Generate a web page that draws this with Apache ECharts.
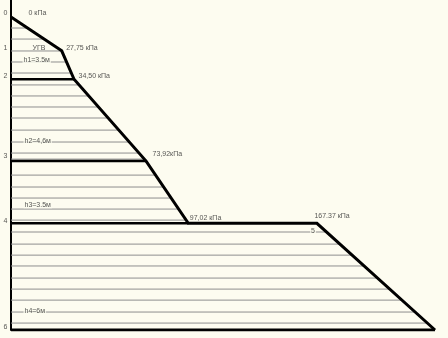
<!DOCTYPE html>
<html><head><meta charset="utf-8">
<script src="https://cdn.jsdelivr.net/npm/echarts@6/dist/echarts.min.js"></script>
<style>html,body{margin:0;padding:0;background:#fdfcf0;}#c{width:448px;height:338px;}</style>
</head><body><div id="c"></div>
<script>
// Pressure diagram profile: pressure (kPa) vs depth (m)
const pressures = [0, 27.75, 34.50, 73.92, 97.02, 167.37, 232];
const depths    = [0, 1.9, 3.5, 8.1, 11.6, 11.6, 17.6];
const pressureLabels = ['0 кПа', '27,75 кПа', '34,50 кПа', '73,92кПа', '97,02 кПа', '167.37 кПа', ''];
// Level numbers on the left
const levelNames  = ['0', '1', '2', '3', '4', '6'];
const levelDepths = [0, 1.9, 3.5, 8.1, 11.6, 17.6];
// Thick layer boundaries
const thickLevelDepths = [3.5, 8.1, 11.6];
// Thin hatch lines
const hatchDepths = [0.62, 1.24, 1.91, 2.53, 3.15, 3.82, 4.44, 5.06, 5.68, 6.36, 7.03, 7.65, 7.99,
  8.89, 9.56, 10.18, 10.80, 11.42, 12.09, 12.77, 13.39, 14.0, 14.68, 15.30, 15.92, 16.59, 17.21];
// Layer annotations
const layerNames = ['УГВ', 'h1=3.5м', 'h2=4,6м', 'h3=3.5м', 'h4=6м'];
const layerNameDepths = [1.9, 2.53, 7.03, 10.59, 16.59];
const point5Name = '5';
const point5Depth = 12.09;

// label layout (styles, kept apart from data)
const pressureLabelOffsets = [[18, -3], [5, -2], [5, -3], [7, -6], [2, -5], [-2, -7], [0, 0]];
const levelLabelOffsets = [[-3, -3], [-3, -2], [-3, -3], [-3, -4], [-3, -2], [-3, -2]];
const layerLabelOffsets = [[22, -2], [12, -1], [13, 0], [13, 0], [13, 0]];

function boundary(d) {
  if (d <= depths[0]) return pressures[0];
  for (let i = 0; i < depths.length - 1; i++) {
    const d0 = depths[i], d1 = depths[i + 1];
    if (d > d0 && d <= d1 && d1 > d0) {
      return pressures[i] + (pressures[i + 1] - pressures[i]) * (d - d0) / (d1 - d0);
    }
  }
  return pressures[pressures.length - 1];
}

const FONT = 'Liberation Sans';
const TXT = '#2a2a2a';
const BG = '#fdfcf0';

function hlineSeries(name, list, color, width, z) {
  return {
    type: 'custom', name: name, z: z, silent: true,
    data: list.map(d => [d, boundary(d)]),
    renderItem: function (params, api) {
      const d = api.value(0), b = api.value(1);
      const p0 = api.coord([0, d]), p1 = api.coord([b, d]);
      return { type: 'line', shape: { x1: p0[0], y1: p0[1], x2: p1[0], y2: p1[1] },
        style: { stroke: color, lineWidth: width } };
    }
  };
}

function labelPoint(x, y, text, offset, align, bg) {
  return {
    value: [x, y],
    label: {
      show: true, formatter: text, position: offset, align: align, verticalAlign: 'middle',
      fontFamily: FONT, fontSize: 7, color: TXT,
      backgroundColor: bg ? BG : 'transparent', padding: bg ? [0, 1] : 0
    }
  };
}

const labelData = [];
pressures.forEach((p, i) => { if (pressureLabels[i]) labelData.push(labelPoint(p, depths[i], pressureLabels[i], pressureLabelOffsets[i], 'left', false)); });
levelNames.forEach((n, i) => labelData.push(labelPoint(0, levelDepths[i], n, levelLabelOffsets[i], 'right', false)));
layerNames.forEach((n, i) => labelData.push(labelPoint(0, layerNameDepths[i], n, layerLabelOffsets[i], 'left', i > 0)));
labelData.push(labelPoint(boundary(point5Depth), point5Depth, point5Name, [-13, 0], 'center', true));

const chart = echarts.init(document.getElementById('c'), null, { renderer: 'canvas' });
chart.setOption({
  backgroundColor: BG,
  animation: false,
  grid: { left: 11, top: 0, width: 435, height: 330 },
  xAxis: { type: 'value', min: 0, max: 238, show: false },
  yAxis: { type: 'value', inverse: true, min: -0.956, max: 17.6,
    axisLine: { show: true, onZero: false, lineStyle: { color: '#000', width: 2 } },
    axisTick: { show: false }, axisLabel: { show: false }, splitLine: { show: false } },
  series: [
    hlineSeries('hatch', hatchDepths, '#8e8e8e', 1, 1),
    hlineSeries('levels', thickLevelDepths, '#000', 2.5, 2),
    { type: 'line', name: 'bottom', z: 3, silent: true, symbol: 'none',
      data: [[0, depths[depths.length - 1]], [pressures[pressures.length - 1], depths[depths.length - 1]]],
      lineStyle: { color: '#000', width: 3 } },
    { type: 'line', name: 'profile', z: 4, silent: true, symbol: 'none',
      data: pressures.map((p, i) => [p, depths[i]]),
      lineStyle: { color: '#000', width: 3, join: 'miter' } },
    { type: 'scatter', name: 'labels', z: 5, silent: true, symbolSize: 1,
      itemStyle: { color: 'rgba(0,0,0,0)' }, data: labelData }
  ]
});
</script></body></html>
